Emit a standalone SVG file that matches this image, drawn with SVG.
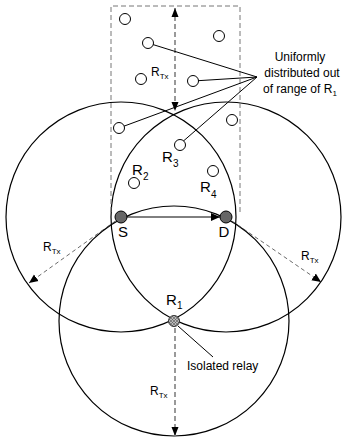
<svg xmlns="http://www.w3.org/2000/svg" width="342" height="441" viewBox="0 0 342 441">
<style>
.rng{fill:none;stroke:#000;stroke-width:1.2}
.rect{fill:none;stroke:#777;stroke-width:1;stroke-dasharray:5,3}
.gdash{fill:none;stroke:#999;stroke-width:2;stroke-dasharray:5,3}
.tdash{fill:none;stroke:#444;stroke-width:0.8;stroke-dasharray:4,3}
.call{fill:none;stroke:#000;stroke-width:1}
.hn{fill:#fff;stroke:#000;stroke-width:1}
.sd{fill:#666;stroke:#000;stroke-width:1}
text{font-family:"Liberation Sans",Arial,sans-serif;fill:#000}
.big{font-size:15px}
.sub{font-size:10px}
.lbl{font-size:12px}
.sml{font-size:8px}
</style>
<defs>
<marker id="ab" markerUnits="userSpaceOnUse" markerWidth="10" markerHeight="10" refX="9" refY="5" orient="auto">
<path d="M0,1 L9,5 L0,9 Z" fill="#000"/>
</marker>
<marker id="abs" markerUnits="userSpaceOnUse" markerWidth="10" markerHeight="10" refX="9" refY="5" orient="auto-start-reverse">
<path d="M0,1.5 L9,5 L0,8.5 Z" fill="#000"/>
</marker>
<pattern id="hatch" patternUnits="userSpaceOnUse" width="3" height="3">
<rect width="3" height="3" fill="#bbb"/>
<path d="M0,0 L3,3 M3,0 L0,3" stroke="#555" stroke-width="0.6"/>
</pattern>
</defs>

<g id="ranges">
<circle class="rng" cx="121" cy="217" r="115"/>
<circle class="rng" cx="226" cy="217" r="115"/>
<circle class="rng" cx="174" cy="321" r="115"/>
</g>

<g id="region">
<path class="rect" d="M111,212 V6 H240 V212"/>
</g>

<g id="connectors">
<line class="gdash" x1="175" y1="8" x2="175" y2="111" marker-start="url(#abs)" marker-end="url(#abs)"/>
<line class="gdash" x1="175" y1="328" x2="175" y2="436" marker-end="url(#abs)"/>
<line class="tdash" x1="121" y1="217" x2="29" y2="283" marker-end="url(#ab)"/>
<line class="tdash" x1="226" y1="217" x2="321" y2="282" marker-end="url(#ab)"/>
<line class="call" x1="127" y1="217" x2="220" y2="217" marker-end="url(#ab)"/>
<line class="call" x1="257" y1="77" x2="148" y2="43"/>
<line class="call" x1="257" y1="77" x2="193" y2="81"/>
<line class="call" x1="257" y1="77" x2="119" y2="128"/>
<line class="call" x1="257" y1="77" x2="180" y2="144"/>
<line class="call" x1="178" y1="326" x2="213" y2="357"/>
</g>

<g id="relays-out">
<circle class="hn" cx="125" cy="19" r="5.5"/>
<circle class="hn" cx="148" cy="43" r="5.5"/>
<circle class="hn" cx="219" cy="36" r="5.5"/>
<circle class="hn" cx="141" cy="79" r="5.5"/>
<circle class="hn" cx="193" cy="81" r="5.5"/>
<circle class="hn" cx="119" cy="128" r="5.5"/>
<circle class="hn" cx="232" cy="120" r="5.5"/>
</g>

<g id="R3">
<circle class="hn" cx="180" cy="145" r="5.5"/>
<text class="big" x="162" y="162">R</text><text class="sub" x="173" y="167">3</text>
</g>
<g id="R2">
<circle class="hn" cx="134" cy="183" r="5.5"/>
<text class="big" x="132" y="175">R</text><text class="sub" x="143" y="180">2</text>
</g>
<g id="R4">
<circle class="hn" cx="213" cy="171" r="5.5"/>
<text class="big" x="200" y="192">R</text><text class="sub" x="211" y="198">4</text>
</g>
<g id="S">
<circle class="sd" cx="121" cy="217" r="6"/>
<text class="big" x="123" y="237" text-anchor="middle">S</text>
</g>
<g id="D">
<circle class="sd" cx="226" cy="217" r="6"/>
<text class="big" x="224" y="237" text-anchor="middle">D</text>
</g>
<g id="R1">
<circle cx="174" cy="321" r="5.5" fill="url(#hatch)" stroke="#333" stroke-width="1"/>
<text class="big" x="166" y="305">R</text><text class="sub" x="177" y="309">1</text>
</g>

<g id="labels">
<text class="lbl" x="300" y="61" text-anchor="middle">Uniformly</text>
<text class="lbl" x="302" y="77" text-anchor="middle">distributed out</text>
<text class="lbl" x="263" y="93">of range of R<tspan class="sml" dy="3">1</tspan></text>
<text class="lbl" x="187" y="370">Isolated relay</text>
<text class="lbl" x="151" y="76">R<tspan class="sml" dy="3">Tx</tspan></text>
<text class="lbl" x="43" y="251">R<tspan class="sml" dy="3">Tx</tspan></text>
<text class="lbl" x="301" y="260">R<tspan class="sml" dy="3">Tx</tspan></text>
<text class="lbl" x="150" y="395">R<tspan class="sml" dy="3">Tx</tspan></text>
</g>
</svg>
